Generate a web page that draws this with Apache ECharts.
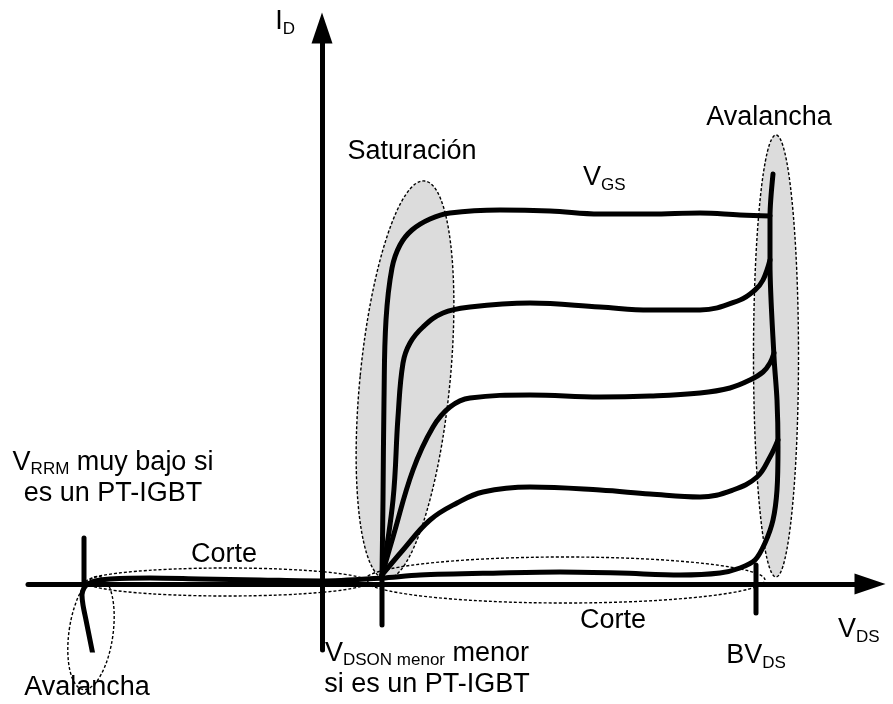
<!DOCTYPE html>
<html>
<head>
<meta charset="utf-8">
<script src="https://cdn.jsdelivr.net/npm/echarts@6/dist/echarts.min.js"></script>
<style>html,body{margin:0;padding:0;background:#fff}#c{width:893px;height:704px}</style>
</head>
<body>
<div id="c"></div>
<script>
// Schematic units: x = V_DS, y = I_D, origin at the axes crossing
const vgs1 = [[60,9],[61,84],[62,184],[64,264],[70,316],[78,339],[90,354],[108,365],[128,371],[178,374],[228,373],[278,370],[328,370],[378,371],[418,369],[448,368]];
const vgs2 = [[60,9],[71,84],[76,167],[81,221],[88,241],[101,257],[121,271],[148,277],[208,281],[278,277],[328,274],[378,274],[418,284],[433,294],[441,304],[448,324]];
const vgs3 = [[60,9],[71,47],[91,114],[111,157],[128,177],[148,186],[208,189],[278,187],[328,188],[378,191],[408,196],[428,204],[441,212],[448,221],[452,231]];
const vgs4 = [[60,9],[81,34],[108,64],[135,81],[161,92],[208,97],[278,94],[328,90],[378,87],[411,94],[435,107],[448,127],[456,144]];
const corteAvalancha = [[-229,-71],[-232,-56],[-236,-36],[-239,-21],[-240,-11],[-238,-4],[-234,0],[-227,3],[-212,5],[-172,6],[-122,5],[-62,4],[0,3],[60,6],[98,9],[178,11],[238,12],[298,11],[358,9],[398,11],[418,16],[433,24],[443,41],[451,64],[455,94],[456,137],[455,184],[452,227],[448,321],[448,367],[451,410]];
const tickVrrm = [[-238,46],[-238,-2]];
const tickVdson = [[60,9],[60,-41]];
const tickBv = [[434,19],[434,-29]];
// regions: [cx, cy, rx, ry, tilt(deg, clockwise), shaded]
const regions = [[83,204,45,200,5.6,1],[454,228,22.5,221,0,1],[-231,-49,22,57,8,0],[-95,2,141,14,0,0],[243,4,200,23,0,0]];
const labelTexts = [
  '{n|I}{s|D}',
  '{n|Saturación}',
  '{n|V}{s|GS}',
  '{n|Avalancha}',
  '{n|V}{s|RRM}{n| muy bajo si}\n{n|es un PT-IGBT}',
  '{n|Corte}',
  '{n|Avalancha}',
  '{n|V}{s|DSON menor}{n| menor}\n{n|si es un PT-IGBT}',
  '{n|Corte}',
  '{n|V}{s|DS}',
  '{n|BV}{s|DS}'
];
const labelAnchors = [[-27,562],[90,432],[261,406],[447,466],[-209,106],[-98,29],[-235,-104],[105,-85],[291,-37],[516,-46],[434,-72]];
const labelAlign = ['right','center','left','center','center','center','center','center','center','left','center'];

const FONT = '"Liberation Sans", Arial, sans-serif';
const rich = {
  n: {fontSize: 27, fontFamily: FONT, lineHeight: 31, color: '#000'},
  s: {fontSize: 17, fontFamily: FONT, lineHeight: 31, color: '#000', padding: [14,0,0,0]}
};

const chart = echarts.init(document.getElementById('c'), null, {renderer: 'canvas'});
const lineStyle = {color: '#000', width: 5, cap: 'round', join: 'round'};
function curve(data, smooth) {
  return {type: 'line', data: data, smooth: smooth, symbol: 'none', z: 5,
    lineStyle: lineStyle, silent: true, animation: false};
}
const K = 0.5523;
chart.setOption({
  animation: false,
  grid: {left: 28, right: 23, top: 28, bottom: 54},
  xAxis: {type: 'value', min: -294, max: 548,
    axisLine: {onZero: true, symbol: ['none','triangle'], symbolSize: [21, 31], lineStyle: {color: '#000', width: 5}},
    axisTick: {show: false}, axisLabel: {show: false}, splitLine: {show: false}},
  yAxis: {type: 'value', min: -66, max: 556,
    axisLine: {onZero: true, symbol: ['none','triangle'], symbolSize: [21, 31], lineStyle: {color: '#000', width: 5}},
    axisTick: {show: false}, axisLabel: {show: false}, splitLine: {show: false}},
  series: [
    {type: 'custom', z: 1, silent: true, data: regions,
      renderItem: function (params, api) {
        const c = api.coord([api.value(0), api.value(1)]);
        const s = api.size([api.value(2), api.value(3)]);
        const rx = s[0], ry = s[1];
        const p = 'M ' + (-rx) + ' 0 C ' + (-rx) + ' ' + (-K*ry) + ' ' + (-K*rx) + ' ' + (-ry) + ' 0 ' + (-ry) +
          ' C ' + (K*rx) + ' ' + (-ry) + ' ' + rx + ' ' + (-K*ry) + ' ' + rx + ' 0' +
          ' C ' + rx + ' ' + (K*ry) + ' ' + (K*rx) + ' ' + ry + ' 0 ' + ry +
          ' C ' + (-K*rx) + ' ' + ry + ' ' + (-rx) + ' ' + (K*ry) + ' ' + (-rx) + ' 0 Z';
        return {type: 'path', x: c[0], y: c[1], rotation: -api.value(4) * Math.PI / 180,
          shape: {pathData: p},
          style: {fill: api.value(5) ? '#dcdcdc' : 'none', stroke: '#000', lineWidth: 1.4, lineDash: [3, 2]}};
      }},
    curve(vgs1, 0.4), curve(vgs2, 0.4), curve(vgs3, 0.4), curve(vgs4, 0.4),
    curve(corteAvalancha, 0.3),
    curve(tickVrrm, false), curve(tickVdson, false), curve(tickBv, false),
    {type: 'custom', z: 6, silent: true,
      data: labelAnchors.map(function (a, i) { return [a[0], a[1], i]; }),
      renderItem: function (params, api) {
        const i = api.value(2);
        const c = api.coord([api.value(0), api.value(1)]);
        return {type: 'text', x: c[0], y: c[1],
          style: {text: labelTexts[i], rich: rich, fontFamily: FONT, fontSize: 27, fill: '#000',
            align: labelAlign[i], verticalAlign: 'middle'}};
      }}
  ]
});
</script>
</body>
</html>
